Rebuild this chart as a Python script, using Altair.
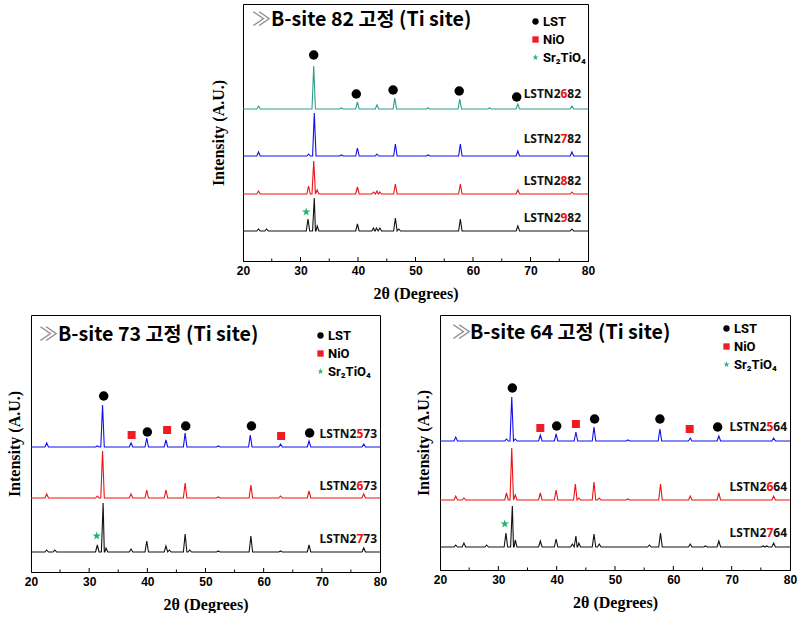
import altair as alt
import pandas as pd

X_MIN, X_MAX = 20, 80
HW = 0.3  # half width of a drawn peak, degrees

# ---------------- data ----------------
# peaks: (2theta, height above the trace's own baseline), intensity in arbitrary units
# Panel "82"
pk_2682 = [(22.7, 3), (32.3, 43), (37.1, 1), (39.9, 7), (43.3, 4), (46.4, 11), (52.2, 1),
           (57.7, 10), (62.9, 1), (67.8, 5), (77.2, 3)]
pk_2782 = [(22.7, 4), (31.4, 2), (32.4, 43), (37.1, 1), (39.9, 8), (43.3, 2), (46.5, 12),
           (52.2, 1), (57.8, 12), (67.8, 5), (77.2, 4)]
pk_2882 = [(22.7, 3), (31.4, 8), (32.3, 33), (32.9, 4), (39.9, 7), (42.7, 2), (43.3, 3),
           (43.8, 2), (46.5, 10), (57.8, 10), (67.8, 4), (77.2, 2)]
pk_2982 = [(22.7, 2), (24.1, 2), (31.3, 12), (32.4, 33), (32.9, 5), (39.9, 7), (42.7, 3),
           (43.2, 3), (43.8, 3), (46.5, 13), (47.1, 2), (57.8, 12), (67.8, 5), (77.2, 2)]
off_82 = [152, 105, 67, 30]
names_82 = ["LSTN2682", "LSTN2782", "LSTN2882", "LSTN2982"]
colors_82 = ["#2f9c8c", "#1010ee", "#ee1111", "#111111"]
label_y_82 = [167, 122, 80, 43]
lst_82 = [(32.3, 206), (39.7, 167), (46.1, 171), (57.6, 170), (67.6, 164)]
nio_82 = []
sr_82 = [(31.0, 49)]

# Panel "73"
pk_2573 = [(22.7, 4), (31.4, 1), (32.3, 42), (37.2, 4), (39.9, 9), (43.2, 7), (46.5, 14),
           (52.2, 1), (57.7, 12), (62.9, 3), (67.8, 6), (77.2, 3)]
pk_2673 = [(22.7, 4), (31.4, 2), (32.3, 47), (37.2, 4), (39.9, 8), (43.2, 8), (46.5, 15),
           (52.2, 1), (57.8, 13), (62.9, 2), (67.8, 7), (77.2, 4)]
pk_2773 = [(22.7, 2), (24.1, 2), (31.4, 7), (32.4, 49), (32.9, 4), (37.2, 3), (39.9, 11),
           (43.2, 6), (43.8, 2), (46.5, 18), (47.3, 2), (52.2, 1), (57.8, 16), (62.9, 1),
           (67.8, 7), (77.2, 4)]
off_73 = [125, 74, 20]
names_73 = ["LSTN2573", "LSTN2673", "LSTN2773"]
colors_73 = ["#1010ee", "#ee1111", "#111111"]
label_y_73 = [138, 86, 33]
lst_73 = [(32.5, 176), (40.0, 140), (46.6, 146), (57.9, 146), (67.9, 139)]
nio_73 = [(37.3, 137), (43.4, 142), (63.0, 136)]
sr_73 = [(31.3, 36)]

# Panel "64"
pk_2564 = [(22.7, 4), (31.4, 2), (32.3, 44), (32.9, 2), (37.2, 6), (39.9, 7), (43.3, 9),
           (46.4, 14), (52.2, 1), (57.7, 12), (62.9, 3), (67.8, 5), (77.2, 3)]
pk_2664 = [(22.7, 4), (24.1, 2), (31.4, 7), (32.3, 52), (32.9, 5), (37.2, 7), (39.9, 10),
           (43.2, 16), (43.8, 2), (46.4, 18), (47.3, 2), (52.2, 1), (57.8, 16), (62.9, 4),
           (67.8, 7), (77.2, 4)]
pk_2764 = [(22.7, 2), (24.1, 4), (28.0, 2), (31.3, 14), (32.4, 41), (32.9, 7), (37.2, 6),
           (39.9, 8), (42.7, 3), (43.3, 11), (43.8, 4), (46.4, 13), (47.3, 3), (55.9, 2),
           (57.8, 14), (62.9, 3), (65.5, 1), (67.8, 6), (75.4, 1), (76.0, 1), (77.2, 4)]
off_64 = [129, 70, 23]
names_64 = ["LSTN2564", "LSTN2664", "LSTN2764"]
colors_64 = ["#1010ee", "#ee1111", "#111111"]
label_y_64 = [143, 83, 37]
lst_64 = [(32.4, 182), (40.0, 144), (46.5, 151), (57.7, 151), (67.6, 143)]
nio_64 = [(37.2, 142), (43.3, 146), (62.8, 141)]
sr_64 = [(31.1, 46)]

tick_pos = [25, 30, 35, 40, 45, 50, 55, 60, 65, 70, 75]
tick_len = [2.5, 4, 2.5, 4, 2.5, 4, 2.5, 4, 2.5, 4, 2.5]
x_labels = [20, 30, 40, 50, 60, 70, 80]

PHASES = ["LST", "NiO", "Sr\u2082TiO\u2084"]
PHASE_COLORS = ["#000000", "#ee1c25", "#1fb56e"]
STAR = ("M0,-1L0.2245,-0.309L0.951,-0.309L0.363,0.118L0.588,0.809L0,0.382"
        "L-0.588,0.809L-0.363,0.118L-0.951,-0.309L-0.2245,-0.309Z")
PHASE_SHAPES = ["circle", "square", STAR]


def trace_rows(peaks, offset, color, name):
    pts = [(X_MIN, offset), (X_MAX, offset)]
    for p, h in peaks:
        pts += [(p - HW, offset), (p, offset + h), (p + HW, offset)]
    pts.sort()
    return [{"x": x, "y": y, "series": name, "col": color} for x, y in pts]


def panel(peak_sets, offsets, names, colors, label_y, label_x, lst, nio, sr,
          site, width, height, ytitle_pad, title_xy, legend_xy):
    rows = []
    for pk, off, nm, col in zip(peak_sets, offsets, names, colors):
        rows += trace_rows(pk, off, col, nm)
    lines_df = pd.DataFrame(rows)

    xs = alt.Scale(domain=[X_MIN, X_MAX], nice=False, zero=False)
    ys = alt.Scale(domain=[0, height], nice=False, zero=False)
    xaxis = alt.Axis(values=x_labels, title="2\u03b8 (Degrees)", ticks=False,
                     labelFont="Liberation Sans", labelFontWeight="bold", labelFontSize=12,
                     labelColor="black", labelPadding=4, labelFlush=False,
                     domainColor="black", grid=False,
                     titleFont="Liberation Serif", titleFontWeight="bold", titleFontSize=16,
                     titleColor="black", titlePadding=9)
    yaxis = alt.Axis(title="Intensity (A.U.)", labels=False, ticks=False, domain=False,
                     grid=False, titleFont="Liberation Serif", titleFontWeight="bold",
                     titleFontSize=16, titleColor="black", titlePadding=ytitle_pad)

    lines = alt.Chart(lines_df).mark_line(strokeWidth=1.1).encode(
        x=alt.X("x:Q", scale=xs, axis=xaxis),
        y=alt.Y("y:Q", scale=ys, axis=yaxis),
        stroke=alt.Stroke("col:N", scale=None),
        detail="series:N",
    )

    ticks_df = pd.DataFrame({"x": tick_pos, "y0": [0] * len(tick_pos), "y1": tick_len})
    ticks = alt.Chart(ticks_df).mark_rule(color="black", strokeWidth=1).encode(
        x="x:Q", y="y0:Q", y2="y1:Q")

    legend = alt.Legend(orient="none", legendX=legend_xy[0], legendY=legend_xy[1], title=None,
                        labelFont="Roboto", labelFontWeight="bold", labelFontSize=13,
                        labelColor="black", symbolSize=40, symbolStrokeWidth=0,
                        labelOffset=1, rowPadding=4, padding=0)
    fill_scale = alt.Scale(domain=PHASES, range=PHASE_COLORS)
    shape_scale = alt.Scale(domain=PHASES, range=PHASE_SHAPES)

    layers = [lines, ticks]
    for pts, ph, sz in [(lst, PHASES[0], 90), (nio, PHASES[1], 64), (sr, PHASES[2], 80)]:
        if not pts:
            continue
        mdf = pd.DataFrame({"x": [p[0] for p in pts], "y": [p[1] for p in pts],
                            "phase": [ph] * len(pts)})
        layers.append(alt.Chart(mdf).mark_point(filled=True, opacity=1, size=sz,
                                                strokeWidth=0).encode(
            x="x:Q", y="y:Q",
            fill=alt.Fill("phase:N", scale=fill_scale, legend=legend),
            shape=alt.Shape("phase:N", scale=shape_scale, legend=legend),
        ))

    ldf = pd.DataFrame({"x": [label_x] * len(names), "y": label_y,
                        "pre": [n[:5] for n in names], "dig": [n[5] for n in names],
                        "suf": [n[6:] for n in names]})
    tkw = dict(font="Noto Sans", fontWeight="bold", fontSize=12, baseline="middle",
               align="right")
    layers.append(alt.Chart(ldf).mark_text(color="#111111", **tkw).encode(
        x="x:Q", y="y:Q", text="suf:N"))
    layers.append(alt.Chart(ldf).mark_text(color="#ee1111", dx=-13.7, **tkw).encode(
        x="x:Q", y="y:Q", text="dig:N"))
    layers.append(alt.Chart(ldf).mark_text(color="#111111", dx=-20.6, **tkw).encode(
        x="x:Q", y="y:Q", text="pre:N"))

    tdf = pd.DataFrame({"a": ["\u226b"], "b": ["B-site %s \uace0\uc815 (Ti site)" % site]})
    layers.append(alt.Chart(tdf).mark_text(font="Noto Sans CJK KR", fontSize=19,
                                           color="#8a8a8a", align="left",
                                           baseline="middle").encode(
        x=alt.value(title_xy[0]), y=alt.value(title_xy[2]), text="a:N"))
    layers.append(alt.Chart(tdf).mark_text(font="Noto Sans CJK KR", fontSize=19.6,
                                           fontWeight="bold", color="black", align="left",
                                           baseline="middle").encode(
        x=alt.value(title_xy[1]), y=alt.value(title_xy[2]), text="b:N"))

    return alt.layer(*layers).properties(width=width, height=height)


top = panel([pk_2682, pk_2782, pk_2882, pk_2982], off_82, names_82, colors_82, label_y_82,
            78.8, lst_82, nio_82, sr_82, "82", 345, 257, 17, (9, 28, 16), (286, 11))
bl = panel([pk_2573, pk_2673, pk_2773], off_73, names_73, colors_73, label_y_73,
           79.5, lst_73, nio_73, sr_73, "73", 349, 257, 9, (8, 27, 20), (283, 14))
br = panel([pk_2564, pk_2664, pk_2764], off_64, names_64, colors_64, label_y_64,
           79.5, lst_64, nio_64, sr_64, "64", 350, 255, 9, (12, 30, 18), (280, 7))

SPACER_W = 177
spacer = alt.Chart(pd.DataFrame({"v": [0]})).mark_point(opacity=0, size=1).encode(
    x=alt.value(SPACER_W / 2), y=alt.value(5)
).properties(width=SPACER_W, height=10, view=alt.ViewBackground(stroke="transparent"))

top_row = alt.hconcat(spacer, top, spacing=0).resolve_scale(fill="independent",
                                                             shape="independent")
bottom = alt.hconcat(bl, br, spacing=26).resolve_scale(fill="independent",
                                                       shape="independent")
chart = alt.vconcat(top_row, bottom, spacing=12).resolve_scale(
    fill="independent", shape="independent"
).properties(
    padding={"left": 5, "top": 3, "right": 0, "bottom": 0}
).configure_view(stroke="black", strokeWidth=1).configure_axis(grid=False)

chart.save("out.html", embed_options={"renderer": "svg", "actions": False})
